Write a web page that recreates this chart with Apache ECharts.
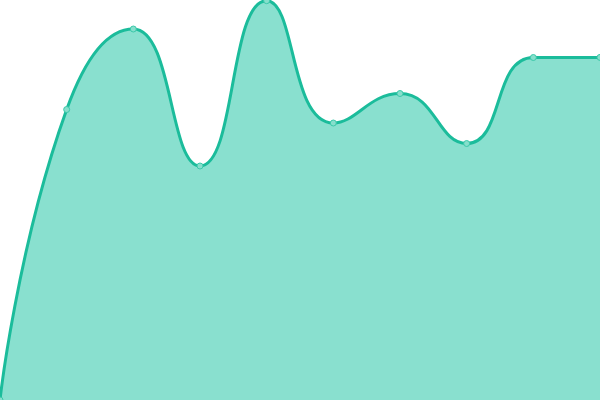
<!DOCTYPE html>
<html><head><meta charset="utf-8">
<script src="https://cdn.jsdelivr.net/npm/echarts@6/dist/echarts.min.js"></script>
<style>html,body{margin:0;padding:0;background:#fff}#c{width:600px;height:400px}</style>
</head><body><div id="c"></div>
<script>
const categories = ['1','2','3','4','5','6','7','8','9','10'];
const values = [0, 290.5, 371, 234, 399.3, 277, 306.5, 256.5, 342.5, 342.6];
const chart = echarts.init(document.getElementById('c'));
chart.setOption({
  animation: false,
  grid: {left: 0, right: 0, top: 0, bottom: 0},
  xAxis: {type: 'category', data: categories, boundaryGap: false, show: false},
  yAxis: {type: 'value', min: 0, max: 400, show: false},
  series: [{
    type: 'line',
    data: values,
    smooth: true,
    symbol: 'circle',
    symbolSize: 6,
    lineStyle: {color: '#1bbc9b', width: 3},
    itemStyle: {color: '#86dfcc', borderColor: '#3cc8aa', borderWidth: 1},
    areaStyle: {color: '#89e0cf', opacity: 1}
  }]
});
</script></body></html>
